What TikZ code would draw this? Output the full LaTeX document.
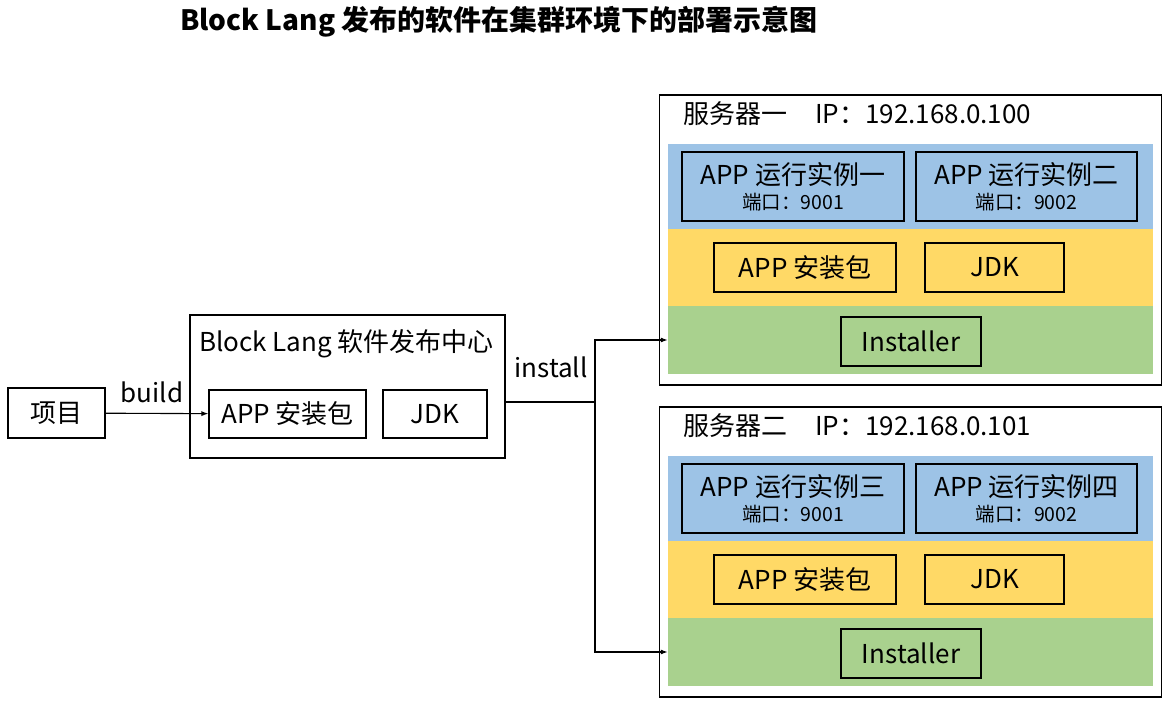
\documentclass[tikz,border=0pt]{standalone}
\usepackage{fontspec}
\setmainfont{Noto Sans CJK SC}
\usetikzlibrary{arrows.meta}
\definecolor{bandblue}{RGB}{157,195,230}
\definecolor{bandyellow}{RGB}{255,217,102}
\definecolor{bandgreen}{RGB}{169,209,142}

\tikzset{
  box/.style={draw,line width=1.1pt,inner sep=0pt,font=\fontsize{26}{30}\selectfont},
  band/.style={inner sep=0pt,minimum width=485pt},
  lbl/.style={inner sep=0pt,font=\fontsize{26}{30}\selectfont},
  port/.style={inner sep=0pt,font=\fontsize{19.5}{22}\selectfont},
}

\begin{document}
\begin{tikzpicture}[x=1pt,y=-1pt]
\useasboundingbox (0,0) rectangle (1173,703);

% Title
\node[inner sep=0pt,font=\fontsize{28}{32}\selectfont\bfseries] (title) at (499,22) {Block Lang 发布的软件在集群环境下的部署示意图};

% Project and release centre
\node[box,minimum width=97pt,minimum height=50pt] (proj) at (56.5,413) {项目};
\node[box,minimum width=315pt,minimum height=143pt] (centre) at (347.5,386.5) {};
\node[lbl] (centretext) at (346.5,344) {Block Lang 软件发布中心};
\node[box,minimum width=157pt,minimum height=48pt] (cpkg) at (287.5,414) {APP 安装包};
\node[box,minimum width=104pt,minimum height=48pt] (cjdk) at (435,414) {JDK};

% Server one
\node[box,minimum width=502pt,minimum height=290pt] (srvA) at (910.5,240) {};
\node[lbl,anchor=west] (srvAtext) at (683,114) {服务器一\hspace{28pt}IP：192.168.0.100};
\node[band,fill=bandblue,minimum height=85pt] (blueA) at (910.5,186.5) {};
\node[band,fill=bandyellow,minimum height=77pt] (yellowA) at (910.5,267.5) {};
\node[band,fill=bandgreen,minimum height=68pt] (greenA) at (910.5,340) {};
\node[box,fill=bandblue,minimum width=222pt,minimum height=69pt] (instA1) at (793,186.5) {};
\node[lbl] (instA1name) at (793,175) {APP 运行实例一};
\node[port] (instA1port) at (793,202) {端口：9001};
\node[box,fill=bandblue,minimum width=221pt,minimum height=69pt] (instA2) at (1026.5,186.5) {};
\node[lbl] (instA2name) at (1026.5,175) {APP 运行实例二};
\node[port] (instA2port) at (1026.5,202) {端口：9002};
\node[box,fill=bandyellow,minimum width=182pt,minimum height=49pt] (pkgA) at (805,267.5) {APP 安装包};
\node[box,fill=bandyellow,minimum width=139pt,minimum height=49pt] (jdkA) at (994.5,267.5) {JDK};
\node[box,fill=bandgreen,minimum width=140pt,minimum height=49pt] (instlA) at (911,341.5) {Installer};

% Server two
\node[box,minimum width=502pt,minimum height=290pt] (srvB) at (910.5,552) {};
\node[lbl,anchor=west] (srvBtext) at (683,426) {服务器二\hspace{28pt}IP：192.168.0.101};
\node[band,fill=bandblue,minimum height=85pt] (blueB) at (910.5,498.5) {};
\node[band,fill=bandyellow,minimum height=77pt] (yellowB) at (910.5,579.5) {};
\node[band,fill=bandgreen,minimum height=68pt] (greenB) at (910.5,652) {};
\node[box,fill=bandblue,minimum width=222pt,minimum height=69pt] (instB1) at (793,498.5) {};
\node[lbl] (instB1name) at (793,487) {APP 运行实例三};
\node[port] (instB1port) at (793,514) {端口：9001};
\node[box,fill=bandblue,minimum width=221pt,minimum height=69pt] (instB2) at (1026.5,498.5) {};
\node[lbl] (instB2name) at (1026.5,487) {APP 运行实例四};
\node[port] (instB2port) at (1026.5,514) {端口：9002};
\node[box,fill=bandyellow,minimum width=182pt,minimum height=49pt] (pkgB) at (805,579.5) {APP 安装包};
\node[box,fill=bandyellow,minimum width=139pt,minimum height=49pt] (jdkB) at (994.5,579.5) {JDK};
\node[box,fill=bandgreen,minimum width=140pt,minimum height=49pt] (instlB) at (911,653.5) {Installer};

% Arrows
\draw[line width=1.1pt,-{Latex[length=7pt,width=5pt]}] (proj) -- (cpkg);
\node[lbl] (build) at (152,392) {build};

\coordinate (split) at (595,402);
\draw[line width=1.1pt] (split -| centre.east) -- (split);
\draw[line width=1.1pt,-{Latex[length=7pt,width=5pt]}] (split) |- (greenA.west);
\draw[line width=1.1pt,-{Latex[length=7pt,width=5pt]}] (split) |- (greenB.west);
\node[lbl] (install) at (551,367) {install};
\end{tikzpicture}
\end{document}
